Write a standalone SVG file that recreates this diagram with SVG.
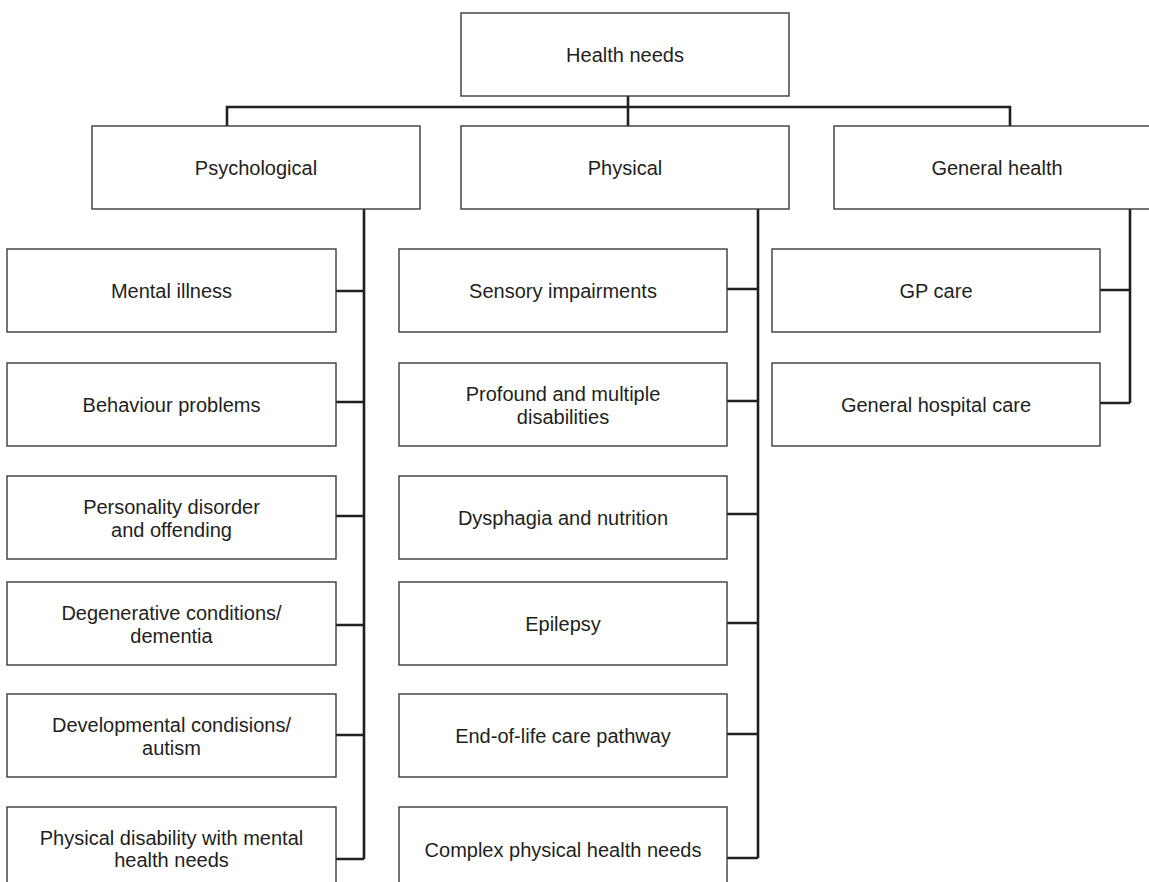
<svg xmlns="http://www.w3.org/2000/svg" width="1149" height="882" viewBox="0 0 1149 882">
<style>
  .box { fill: #ffffff; stroke: #3a3a3a; stroke-width: 1.4; }
  .lbl { font-family: "Liberation Sans", Arial, sans-serif; font-size: 20px; fill: #231f20; text-anchor: middle; }
  .con { fill: none; stroke: #231f20; stroke-width: 2.6; stroke-linecap: butt; stroke-linejoin: miter; }
</style>
<rect width="1149" height="882" fill="#ffffff"/>
<g id="connectors">
  <path class="con" d="M628,96 V126"/>
  <path class="con" d="M227,126 V107 H1010 V126"/>
  <path class="con" d="M364,209 V859"/>
  <path class="con" d="M336,291 H364 M336,402 H364 M336,516 H364 M336,625 H364 M336,735 H364 M336,859 H364"/>
  <path class="con" d="M758,209 V858"/>
  <path class="con" d="M727,289 H758 M727,401 H758 M727,514 H758 M727,623 H758 M727,734 H758 M727,858 H758"/>
  <path class="con" d="M1130,209 V403"/>
  <path class="con" d="M1100,290 H1130 M1100,403 H1130"/>
</g>
<g id="health-needs"><rect class="box" x="461" y="13" width="328" height="83"/><text class="lbl" x="625" y="62">Health needs</text></g>
<g id="psychological"><rect class="box" x="92" y="126" width="328" height="83"/><text class="lbl" x="256" y="175">Psychological</text></g>
<g id="physical"><rect class="box" x="461" y="126" width="328" height="83"/><text class="lbl" x="625" y="175">Physical</text></g>
<g id="general-health"><rect class="box" x="834" y="126" width="328" height="83"/><text class="lbl" x="997" y="175">General health</text></g>

<g id="mental-illness"><rect class="box" x="7" y="249" width="329" height="83"/><text class="lbl" x="171.5" y="298">Mental illness</text></g>
<g id="behaviour-problems"><rect class="box" x="7" y="363" width="329" height="83"/><text class="lbl" x="171.5" y="412">Behaviour problems</text></g>
<g id="personality-disorder"><rect class="box" x="7" y="476" width="329" height="83"/><text class="lbl" x="171.5" y="514">Personality disorder</text><text class="lbl" x="171.5" y="537">and offending</text></g>
<g id="degenerative"><rect class="box" x="7" y="582" width="329" height="83"/><text class="lbl" x="171.5" y="620">Degenerative conditions/</text><text class="lbl" x="171.5" y="643">dementia</text></g>
<g id="developmental"><rect class="box" x="7" y="694" width="329" height="83"/><text class="lbl" x="171.5" y="732">Developmental condisions/</text><text class="lbl" x="171.5" y="755">autism</text></g>
<g id="physical-disability"><rect class="box" x="7" y="807" width="329" height="100"/><text class="lbl" x="171.5" y="845">Physical disability with mental</text><text class="lbl" x="171.5" y="867">health needs</text></g>

<g id="sensory"><rect class="box" x="399" y="249" width="328" height="83"/><text class="lbl" x="563" y="298">Sensory impairments</text></g>
<g id="profound"><rect class="box" x="399" y="363" width="328" height="83"/><text class="lbl" x="563" y="401">Profound and multiple</text><text class="lbl" x="563" y="424">disabilities</text></g>
<g id="dysphagia"><rect class="box" x="399" y="476" width="328" height="83"/><text class="lbl" x="563" y="525">Dysphagia and nutrition</text></g>
<g id="epilepsy"><rect class="box" x="399" y="582" width="328" height="83"/><text class="lbl" x="563" y="631">Epilepsy</text></g>
<g id="end-of-life"><rect class="box" x="399" y="694" width="328" height="83"/><text class="lbl" x="563" y="743">End-of-life care pathway</text></g>
<g id="complex"><rect class="box" x="399" y="807" width="328" height="100"/><text class="lbl" x="563" y="857">Complex physical health needs</text></g>

<g id="gp-care"><rect class="box" x="772" y="249" width="328" height="83"/><text class="lbl" x="936" y="298">GP care</text></g>
<g id="general-hospital-care"><rect class="box" x="772" y="363" width="328" height="83"/><text class="lbl" x="936" y="412">General hospital care</text></g>
</svg>
